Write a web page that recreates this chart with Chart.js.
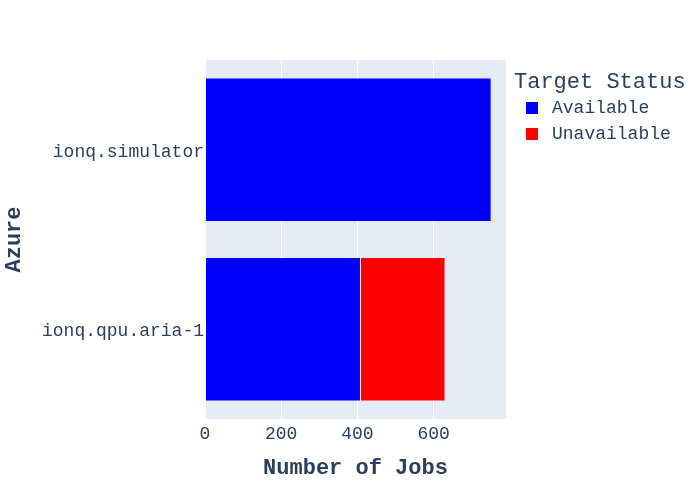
<!DOCTYPE html>
<html>
<head>
<meta charset="utf-8">
<script src="https://cdn.jsdelivr.net/npm/chart.js@4/dist/chart.umd.min.js"></script>
<style>
  html, body { margin: 0; padding: 0; background: #fff; }
  #wrap { width: 700px; height: 500px; }
</style>
</head>
<body>
<div id="wrap"><canvas id="c" width="700" height="500"></canvas></div>
<script>
const categories = ['ionq.simulator', 'ionq.qpu.aria-1'];
const availableJobs = [751, 408];
const unavailableJobs = [0, 222];
const seriesNames = ['Available', 'Unavailable'];
const seriesColors = ['#0000ff', '#ff0000'];
const xTicks = [0, 200, 400, 600];
const legendTitle = 'Target Status';
const xTitle = 'Number of Jobs';
const yTitle = 'Azure';

const FONT = "'Liberation Mono', 'Courier New', monospace";
const TXT = '#2a3f5f';

const bgPlugin = {
  id: 'plotBg',
  beforeDraw(chart) {
    const {ctx, chartArea: a} = chart;
    ctx.save();
    ctx.fillStyle = '#E5ECF6';
    ctx.fillRect(a.left, a.top, a.right - a.left, a.bottom - a.top);
    ctx.restore();
  }
};

const legendPlugin = {
  id: 'customLegend',
  afterDraw(chart) {
    const ctx = chart.ctx;
    ctx.save();
    ctx.fillStyle = TXT;
    ctx.textBaseline = 'middle';
    ctx.textAlign = 'left';
    ctx.font = '22px ' + FONT;
    ctx.fillText(legendTitle, 514, 82);
    ctx.font = '18px ' + FONT;
    chart.data.datasets.forEach((ds, i) => {
      const y = 108 + i * 26;
      ctx.fillStyle = ds.backgroundColor;
      ctx.fillRect(526, y - 6, 12, 12);
      ctx.fillStyle = TXT;
      ctx.fillText(ds.label, 552, y);
    });
    ctx.restore();
  }
};

new Chart(document.getElementById('c'), {
  type: 'bar',
  data: {
    labels: categories,
    datasets: [
      { label: seriesNames[0], data: availableJobs, backgroundColor: seriesColors[0],
        borderColor: 'rgba(229,236,246,0.6)', borderWidth: 0.5, borderSkipped: false },
      { label: seriesNames[1], data: unavailableJobs, backgroundColor: seriesColors[1],
        borderColor: 'rgba(229,236,246,0.6)', borderWidth: 0.5, borderSkipped: false }
    ]
  },
  options: {
    indexAxis: 'y',
    responsive: false,
    animation: false,
    devicePixelRatio: 1,
    layout: { padding: { top: 60, right: 194, bottom: 0, left: 0 } },
    datasets: { bar: { categoryPercentage: 0.8, barPercentage: 1.0 } },
    plugins: { legend: { display: false }, tooltip: { enabled: false } },
    scales: {
      x: {
        stacked: true,
        min: 0,
        max: 790,
        afterBuildTicks(scale) {
          scale.ticks = xTicks.map(v => ({ value: v }));
        },
        afterFit(scale) { scale.height = 81; },
        border: { display: false },
        grid: { color: '#ffffff', lineWidth: 1, drawTicks: false },
        ticks: { color: TXT, font: { family: FONT, size: 18 }, padding: 4 },
        title: { display: true, text: xTitle, color: TXT,
                 font: { family: FONT, size: 22, weight: 'bold' },
                 padding: { top: 0, bottom: 18 } }
      },
      y: {
        stacked: true,
        afterFit(scale) { scale.width = 205; },
        border: { display: false },
        grid: { display: false, drawTicks: false },
        ticks: { color: TXT, font: { family: FONT, size: 18 }, padding: 1, labelOffset: 2 },
        title: { display: true, text: yTitle, color: TXT,
                 font: { family: FONT, size: 22, weight: 'bold' },
                 padding: { top: 1, bottom: 0 } }
      }
    }
  },
  plugins: [bgPlugin, legendPlugin]
});
</script>
</body>
</html>
